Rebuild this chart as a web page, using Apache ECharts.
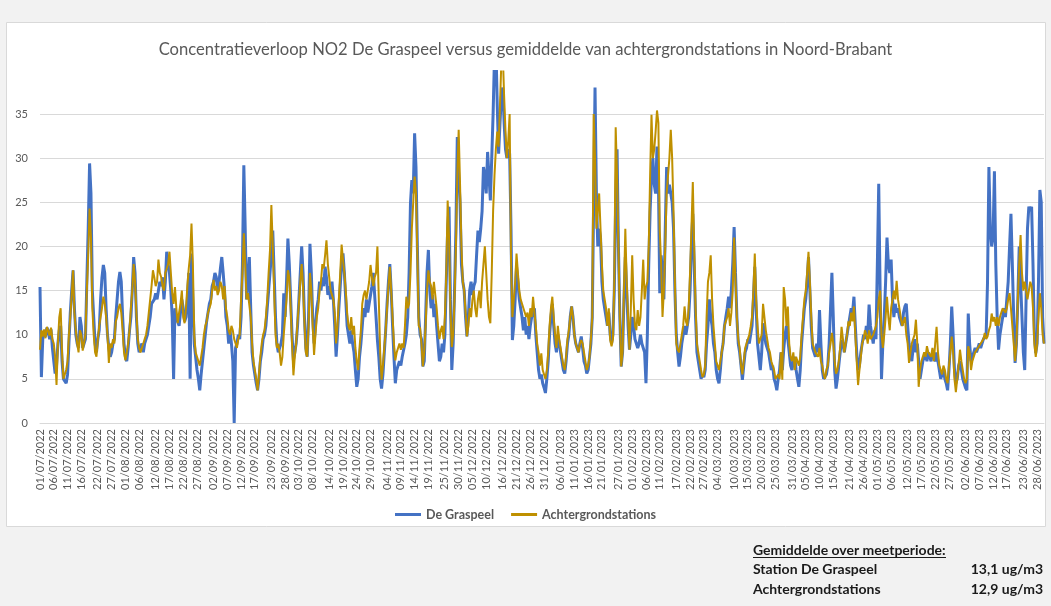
<!DOCTYPE html>
<html>
<head>
<meta charset="utf-8">
<script src="https://cdn.jsdelivr.net/npm/echarts@6/dist/echarts.min.js"></script>
<style>
  html, body { margin: 0; padding: 0; background: #f2f2f2; }
  #chart { width: 1051px; height: 606px; }
</style>
</head>
<body>
<div id="chart"></div>
<script>
// NO2 concentration (ug/m3), two readings per day (00:00 and 12:00), from 01/07/2022
const startDate = Date.UTC(2022, 6, 1);
const stepHours = 12;

const graspeel = [
  15.4,5.2, 9.5,10.2, 9.8,10.8, 10.4,9.5, 10.6,8.5, 7.0,5.6, 6.5,9.0, 10.5,11.0, 7.0,5.0, 4.8,4.5,
  5.5,9.0, 12.5,15.0, 17.3,13.0, 10.0,9.0, 8.5,12.0, 11.0,8.5, 8.3,9.5, 16.0,22.0, 29.4,26.0, 15.0,12.0,
  9.0,8.0, 9.5,10.5, 14.0,16.5, 17.9,17.0, 13.0,10.0, 8.5,7.5, 8.0,9.0, 9.5,12.0, 14.0,16.0, 17.1,16.0,
  12.0,9.0, 7.5,7.0, 8.5,10.5, 12.0,15.0, 18.8,17.0, 12.0,9.0, 8.0,8.5, 9.0,8.0, 9.0,9.5, 10.0,11.0,
  12.0,13.5, 13.5,14.0, 14.7,14.0, 15.0,16.0, 15.5,16.5, 14.0,16.0, 19.4,18.0, 17.0,15.0, 12.0,5.0, 13.0,12.0,
  12.0,11.0, 12.5,14.0, 13.0,11.5, 12.0,14.0, 17.0,5.0, 19.2,14.0, 9.0,7.5, 6.0,5.0, 3.7,5.5, 7.0,8.5,
  10.0,11.5, 12.5,13.5, 14.0,15.5, 16.0,17.0, 16.5,15.0, 16.0,17.5, 18.8,17.0, 15.0,12.0, 11.0,9.0, 10.5,9.0,
  7.0,0.0, 8.5,9.0, 10.0,9.5, 12.0,18.0, 29.2,22.0, 14.0,16.0, 18.8,13.0, 8.0,6.5, 5.5,4.5, 3.7,5.0,
  7.0,8.0, 9.5,10.0, 11.0,13.0, 15.0,17.0, 19.0,21.8, 17.0,12.0, 9.0,8.0, 8.5,9.0, 10.0,14.7, 12.0,16.0,
  20.9,18.0, 14.0,10.0, 7.1,8.0, 9.0,11.0, 14.0,17.0, 20.0,17.0, 12.0,8.5, 7.5,12.0, 20.3,17.0, 12.0,9.0,
  11.0,13.0, 14.0,16.0, 15.0,16.5, 15.5,17.7, 16.5,14.5, 15.5,14.0, 16.0,14.0, 11.0,7.5, 10.0,13.0, 15.5,18.0,
  19.2,17.0, 14.0,11.0, 10.0,9.0, 10.5,9.0, 8.0,6.0, 4.1,5.0, 7.5,9.0, 11.0,13.0, 12.0,14.0, 12.5,13.5,
  14.5,15.5, 17.0,14.5, 12.0,9.4, 7.5,5.0, 3.9,5.5, 8.0,10.5, 13.5,16.0, 18.0,15.0, 11.0,7.5, 4.5,6.0,
  6.5,7.0, 6.5,7.5, 7.5,9.0, 10.0,12.0, 17.0,24.9, 27.5,26.0, 32.8,29.0, 20.0,12.0, 10.0,9.5, 6.4,7.0,
  12.0,17.0, 19.6,15.0, 13.0,14.5, 12.0,13.5, 11.0,9.0, 7.0,7.5, 9.0,8.0, 10.0,16.0, 22.0,24.5, 14.0,6.0,
  9.0,15.0, 22.0,32.4, 28.0,25.0, 18.0,16.0, 15.0,12.0, 9.8,12.0, 15.0,16.0, 14.5,15.5, 16.0,19.0, 21.8,20.5,
  22.0,24.0, 29.0,28.0, 26.0,30.7, 28.0,25.2, 30.0,35.0, 41.5,43.0, 36.0,30.5, 34.0,37.0, 38.0,34.0, 31.0,30.0,
  31.0,30.5, 22.0,9.4, 11.0,14.0, 17.7,16.0, 14.0,13.0, 12.0,10.5, 12.0,10.0, 11.0,9.5, 11.0,12.0, 12.5,13.0,
  10.0,8.0, 6.0,5.0, 5.5,4.5, 4.0,3.4, 5.0,7.0, 10.0,12.0, 13.5,11.0, 9.0,8.0, 10.0,9.0, 8.0,7.0,
  6.0,5.6, 7.0,9.0, 10.0,12.0, 13.2,12.0, 10.0,9.0, 8.5,8.0, 9.0,9.8, 8.5,7.0, 6.5,5.6, 6.0,7.5,
  9.0,12.0, 25.0,38.0, 26.0,20.0, 22.0,21.0, 16.0,14.0, 13.0,12.0, 11.0,12.5, 10.0,9.0, 10.0,15.0, 25.0,31.0,
  20.0,12.0, 6.4,8.0, 14.0,18.8, 15.0,11.0, 8.3,10.0, 12.0,11.0, 9.5,9.0, 8.5,9.0, 10.0,9.0, 9.0,8.0,
  4.5,10.0, 18.0,24.0, 28.0,30.0, 27.0,26.0, 31.3,28.0, 14.7,19.0, 17.0,14.0, 22.0,29.0, 26.0,27.0, 27.0,25.0,
  22.0,15.0, 10.0,8.0, 6.4,7.5, 9.0,10.0, 11.0,10.0, 10.0,12.0, 15.0,20.0, 23.7,18.0, 12.0,8.0, 7.0,6.0,
  5.0,5.5, 5.2,6.0, 9.0,11.0, 14.0,12.0, 11.0,9.0, 8.0,6.0, 5.0,4.5, 6.0,8.0, 9.0,11.0, 12.0,13.0,
  14.3,13.0, 15.0,18.0, 22.2,17.0, 12.0,9.0, 8.0,6.5, 4.9,6.5, 8.0,8.5, 9.5,9.0, 9.0,11.0, 14.0,17.7,
  13.0,9.0, 7.5,6.0, 8.0,11.3, 10.0,9.0, 9.0,8.0, 7.0,6.0, 6.5,5.0, 4.5,3.7, 5.0,6.0, 8.0,6.0,
  8.3,10.0, 11.0,9.5, 8.0,6.5, 6.0,7.0, 7.5,6.0, 5.0,4.1, 6.0,9.0, 11.0,13.0, 14.0,16.0, 18.8,15.0,
  11.0,8.5, 8.0,7.5, 9.0,8.0, 12.8,9.0, 6.0,5.0, 5.0,5.5, 6.5,9.0, 13.0,17.0, 12.0,6.0, 3.9,5.0,
  6.5,8.0, 9.4,9.0, 8.0,9.0, 10.0,11.0, 12.0,13.0, 12.5,14.3, 11.0,8.0, 6.0,6.5, 8.0,9.0, 10.0,9.5,
  11.0,10.0, 13.4,11.0, 10.0,9.0, 10.5,9.5, 18.0,27.1, 15.0,5.0, 9.0,12.0, 16.0,21.0, 18.0,17.0, 18.5,14.0,
  12.0,13.5, 12.5,13.0, 12.0,11.5, 11.0,12.5, 13.2,13.5, 11.0,9.0, 8.0,7.0, 8.5,9.5, 8.0,9.0, 7.0,5.0,
  6.0,7.0, 7.5,8.0, 7.0,8.0, 7.5,7.0, 8.0,7.5, 7.0,8.0, 7.0,6.0, 5.0,5.5, 6.0,5.0, 4.5,3.7,
  6.0,9.0, 13.2,10.0, 6.0,4.5, 5.0,6.5, 7.0,6.0, 5.0,4.5, 4.0,3.7, 12.4,9.0, 7.0,7.5, 8.0,8.5,
  8.0,8.5, 9.0,8.5, 9.0,9.5, 9.5,10.0, 16.0,29.0, 22.0,20.0, 21.0,28.5, 18.0,12.0, 8.3,10.0, 11.0,12.0,
  13.0,12.0, 12.0,16.0, 20.0,23.7, 18.0,12.0, 6.8,9.0, 14.0,20.0, 16.0,12.0, 8.0,6.0, 14.0,22.0, 24.5,24.0,
  24.5,18.0, 10.0,7.9, 9.0,16.0, 26.4,25.0, 12.0,9.0
];

const achtergrond = [
  8.3,10.5, 9.8,10.6, 9.6,10.9, 10.7,9.9, 10.8,9.5, 9.0,7.5, 4.3,9.0, 12.0,13.0, 8.0,5.0, 5.5,6.0,
  7.0,10.0, 12.0,14.5, 17.3,12.5, 10.5,9.0, 8.0,10.5, 10.0,8.2, 8.0,10.0, 15.0,19.0, 24.3,21.0, 13.0,10.0,
  8.0,7.5, 9.5,11.0, 12.0,13.0, 14.3,13.5, 12.0,10.0, 6.8,9.0, 8.5,9.5, 9.0,11.5, 12.0,13.0, 13.5,12.5,
  10.5,8.0, 7.1,8.0, 9.0,10.5, 13.0,15.0, 18.0,16.0, 12.5,9.5, 8.5,8.0, 8.5,9.0, 9.5,10.0, 11.0,12.5,
  14.0,15.5, 17.3,16.5, 15.5,16.0, 18.5,17.0, 16.5,15.5, 15.0,17.0, 17.5,18.0, 19.4,17.0, 14.7,13.5, 15.4,13.0,
  11.3,12.5, 13.5,15.0, 12.0,11.3, 13.0,15.5, 17.5,19.0, 22.6,18.0, 10.0,8.0, 7.9,7.0, 6.5,7.5, 8.5,10.0,
  11.0,11.5, 12.5,13.0, 13.5,15.0, 16.2,15.0, 15.5,14.5, 15.0,16.0, 15.5,14.0, 15.5,13.0, 12.0,10.5, 10.0,11.0,
  10.5,9.5, 9.0,8.5, 9.5,10.0, 14.0,17.0, 21.5,18.0, 14.0,14.7, 14.7,12.0, 9.0,7.0, 6.0,5.0, 3.7,5.5,
  7.5,9.0, 10.0,10.5, 12.0,14.0, 17.0,19.6, 24.7,20.0, 15.0,10.0, 8.5,9.0, 8.0,6.5, 7.5,10.0, 12.0,14.0,
  17.3,16.5, 13.0,9.0, 5.4,7.5, 9.0,11.5, 13.5,16.0, 18.0,15.5, 11.5,8.0, 7.5,11.0, 17.0,15.0, 11.0,7.7,
  10.0,12.0, 13.0,15.0, 16.0,18.0, 17.5,19.0, 20.7,18.0, 16.5,15.0, 14.5,14.0, 12.5,9.0, 11.0,14.0, 17.0,20.2,
  18.5,17.0, 15.0,12.5, 11.0,10.5, 12.0,10.0, 11.0,8.5, 7.0,6.0, 8.5,10.5, 13.5,14.5, 15.0,14.0, 15.0,16.0,
  17.9,16.5, 15.5,16.5, 17.0,20.0, 14.0,8.0, 4.9,6.5, 8.5,10.5, 13.0,15.5, 17.7,15.0, 12.0,9.0, 7.1,8.0,
  8.5,9.0, 8.3,9.0, 8.5,11.0, 14.3,13.0, 13.5,17.0, 22.0,25.0, 27.9,26.0, 19.0,11.0, 10.7,9.0, 6.4,8.0,
  11.0,15.0, 17.3,16.0, 15.5,14.0, 16.0,14.5, 13.0,11.0, 9.5,10.5, 11.0,9.5, 12.0,17.0, 25.2,21.0, 13.0,8.6,
  10.0,14.0, 20.0,28.0, 33.2,27.0, 20.0,16.0, 15.0,12.5, 9.8,11.0, 13.0,12.0, 14.0,15.0, 13.0,12.0, 14.0,15.0,
  13.0,16.0, 18.0,20.0, 17.0,14.0, 12.0,11.3, 17.0,24.0, 28.0,31.0, 33.0,31.3, 36.0,41.0, 42.0,37.0, 33.0,30.0,
  32.0,35.0, 18.5,12.0, 12.0,16.0, 19.2,17.0, 15.0,14.0, 14.0,13.0, 13.0,12.0, 12.5,11.0, 13.0,12.0, 14.3,12.5,
  11.0,9.0, 8.0,6.5, 7.9,6.0, 5.5,5.0, 6.0,8.0, 11.0,13.0, 14.3,12.0, 10.0,8.5, 11.0,9.5, 8.5,7.5,
  6.5,6.0, 7.5,9.5, 10.5,12.0, 13.2,12.0, 10.0,9.0, 8.5,8.0, 9.0,9.4, 9.0,8.0, 7.0,6.0, 6.5,7.5,
  9.5,12.0, 35.0,30.0, 22.0,24.0, 26.0,22.0, 18.0,15.0, 15.0,13.0, 11.0,13.0, 9.4,8.7, 9.5,16.0, 33.5,28.0,
  20.0,12.0, 6.4,8.0, 15.0,22.0, 16.0,12.0, 8.3,13.0, 19.0,14.0, 11.0,10.5, 12.8,11.0, 12.0,15.0, 18.5,14.0,
  15.4,16.0, 20.0,28.0, 34.9,30.0, 31.0,33.0, 35.4,34.0, 21.8,18.0, 12.0,15.0, 20.0,26.0, 28.0,30.0, 33.2,30.0,
  24.0,16.0, 9.0,8.3, 8.0,9.0, 10.0,11.0, 13.2,11.5, 11.0,13.0, 17.0,22.0, 27.3,20.0, 13.0,9.0, 8.0,7.0,
  6.0,5.2, 5.5,6.5, 12.0,16.0, 17.0,19.0, 14.0,11.0, 9.0,7.0, 6.5,6.0, 7.0,8.0, 9.0,11.0, 11.0,12.0,
  13.0,11.0, 12.5,15.0, 21.0,16.0, 12.0,9.5, 8.5,6.5, 5.5,7.0, 8.5,9.0, 9.0,10.0, 10.9,12.0, 15.0,19.2,
  14.0,11.0, 9.0,9.0, 10.0,13.5, 12.0,10.5, 9.5,8.5, 8.0,7.0, 7.0,6.0, 5.0,4.9, 5.5,5.0, 8.0,4.9,
  15.4,14.0, 11.0,13.2, 9.0,7.5, 7.0,8.0, 6.0,7.5, 7.0,6.5, 7.5,10.0, 12.0,14.0, 15.0,17.0, 19.4,16.0,
  12.0,9.0, 8.5,8.0, 8.0,7.5, 8.5,7.0, 6.5,5.5, 5.0,6.0, 6.5,8.0, 9.0,10.2, 9.0,7.0, 5.6,6.0,
  7.0,8.5, 10.9,9.5, 8.0,9.0, 10.0,11.5, 11.0,12.5, 11.5,13.2, 10.0,7.0, 4.3,6.0, 7.5,9.0, 9.5,10.5,
  10.0,9.0, 10.5,9.5, 9.5,10.0, 10.0,11.0, 12.0,14.0, 15.0,10.0, 8.5,10.0, 12.0,14.3, 12.0,10.5, 13.0,14.0,
  15.0,14.0, 16.1,14.0, 14.0,12.0, 11.0,10.9, 12.0,10.0, 9.0,6.8, 8.0,9.0, 9.5,10.0, 11.7,9.0, 4.1,6.0,
  7.0,7.5, 8.0,7.5, 8.7,8.0, 8.0,7.5, 8.5,7.0, 9.0,10.9, 8.0,6.5, 6.0,5.5, 6.5,6.0, 5.0,4.5,
  6.5,8.0, 9.8,8.0, 5.0,3.5, 5.0,6.5, 8.3,7.0, 6.0,5.0, 4.5,5.0, 8.7,8.0, 6.0,7.0, 7.5,8.0,
  8.0,8.5, 8.5,9.0, 9.0,9.5, 10.2,9.5, 9.8,10.5, 11.0,12.4, 11.5,12.0, 11.0,12.0, 11.0,12.0, 12.5,13.0,
  13.0,12.5, 13.0,14.0, 14.7,13.0, 11.0,9.0, 7.0,9.0, 14.0,18.0, 21.3,17.0, 15.0,16.0, 15.0,14.0, 15.0,16.0,
  15.5,13.0, 9.0,7.5, 9.0,12.0, 14.7,13.0, 10.0,9.0
];

// Dates printed under the axis
const tickLabels = [
  '01/07/2022','06/07/2022','11/07/2022','16/07/2022','22/07/2022','27/07/2022','01/08/2022','06/08/2022',
  '12/08/2022','17/08/2022','22/08/2022','27/08/2022','02/09/2022','07/09/2022','12/09/2022','17/09/2022',
  '23/09/2022','28/09/2022','03/10/2022','08/10/2022','14/10/2022','19/10/2022','24/10/2022','29/10/2022',
  '04/11/2022','09/11/2022','14/11/2022','19/11/2022','25/11/2022','30/11/2022','05/12/2022','10/12/2022',
  '16/12/2022','21/12/2022','26/12/2022','31/12/2022','06/01/2023','11/01/2023','16/01/2023','21/01/2023',
  '27/01/2023','01/02/2023','06/02/2023','11/02/2023','17/02/2023','22/02/2023','27/02/2023','04/03/2023',
  '10/03/2023','15/03/2023','20/03/2023','25/03/2023','31/03/2023','05/04/2023','10/04/2023','15/04/2023',
  '21/04/2023','26/04/2023','01/05/2023','06/05/2023','12/05/2023','17/05/2023','22/05/2023','27/05/2023',
  '02/06/2023','07/06/2023','12/06/2023','17/06/2023','23/06/2023','28/06/2023'
];

const seriesNames = ['De Graspeel', 'Achtergrondstations'];
const averageLabels = ['Station De Graspeel', 'Achtergrondstations'];
const averageValues = ['13,1 ug/m3', '12,9 ug/m3'];

function pad(n) { return (n < 10 ? '0' : '') + n; }
const categories = graspeel.map(function (_, i) {
  const d = new Date(startDate + i * stepHours * 3600 * 1000);
  return pad(d.getUTCDate()) + '/' + pad(d.getUTCMonth() + 1) + '/' + d.getUTCFullYear() +
    ' ' + pad(d.getUTCHours()) + ':00';
});
const labelSet = new Set(tickLabels);
function showTick(index) {
  const day = categories[index].slice(0, 10);
  if (!labelSet.has(day)) return false;
  return index === 0 || categories[index - 1].slice(0, 10) !== day;
}

const FONT = 'Lato, "Open Sans", sans-serif';
const gridColor = '#d9d9d9';
const textGrey = '#595959';

const chart = echarts.init(document.getElementById('chart'), null, { renderer: 'canvas' });
chart.setOption({
  animation: false,
  backgroundColor: '#f2f2f2',
  textStyle: { fontFamily: FONT },
  title: {
    text: 'Concentratieverloop NO2 De Graspeel versus gemiddelde van achtergrondstations in Noord-Brabant',
    left: 'center',
    top: 36,
    textStyle: { fontFamily: FONT, fontSize: 16.6, fontWeight: 'normal', color: textGrey }
  },
  legend: {
    data: seriesNames,
    left: 'center',
    top: 503,
    icon: 'rect',
    itemWidth: 26,
    itemHeight: 3,
    itemGap: 17,
    textStyle: { fontFamily: FONT, fontSize: 12.5, fontWeight: 'bold', color: textGrey }
  },
  grid: { left: 40, right: 7, top: 71.6, bottom: 183, containLabel: false },
  xAxis: {
    type: 'category',
    data: categories,
    boundaryGap: false,
    axisLine: { lineStyle: { color: gridColor, width: 1 } },
    axisTick: { show: false },
    axisLabel: {
      interval: showTick,
      rotate: 90,
      margin: 6,
      fontSize: 11,
      color: textGrey,
      fontFamily: FONT,
      formatter: function (v) { return v.slice(0, 10); }
    },
    splitLine: { show: false }
  },
  yAxis: {
    type: 'value',
    min: 0,
    max: 39.8,
    interval: 5,
    axisLine: { show: false },
    axisTick: { show: false },
    axisLabel: {
      fontSize: 11,
      color: textGrey,
      margin: 12,
      fontFamily: FONT,
      formatter: function (v) { return v % 5 === 0 ? String(v) : ''; }
    },
    splitLine: {
      lineStyle: {
        color: [gridColor, gridColor, gridColor, gridColor, gridColor, gridColor, gridColor, gridColor, 'rgba(0,0,0,0)'],
        width: 1
      }
    }
  },
  series: [
    {
      name: seriesNames[0],
      type: 'line',
      data: graspeel,
      showSymbol: false,
      symbol: 'none',
      lineStyle: { color: '#4472C4', width: 3 },
      itemStyle: { color: '#4472C4' },
      clip: true
    },
    {
      name: seriesNames[1],
      type: 'line',
      data: achtergrond,
      showSymbol: false,
      symbol: 'none',
      lineStyle: { color: '#BF9000', width: 2 },
      itemStyle: { color: '#BF9000' },
      clip: true
    }
  ],
  graphic: [
    {
      type: 'rect',
      z: -100,
      silent: true,
      shape: { x: 6.5, y: 22.5, width: 1039, height: 504 },
      style: { fill: '#ffffff', stroke: '#d9d9d9', lineWidth: 1 }
    },
    {
      type: 'text', left: 753, top: 543,
      style: { text: 'Gemiddelde over meetperiode:', font: 'bold 14px ' + FONT, fill: '#1a1a1a' }
    },
    {
      type: 'line', silent: true,
      shape: { x1: 753, y1: 557.5, x2: 946, y2: 557.5 },
      style: { stroke: '#1a1a1a', lineWidth: 1 }
    },
    {
      type: 'text', left: 753, top: 562,
      style: { text: averageLabels[0], font: 'bold 14px ' + FONT, fill: '#1a1a1a' }
    },
    {
      type: 'text', right: 8, top: 562,
      style: { text: averageValues[0], font: 'bold 14px ' + FONT, fill: '#1a1a1a' }
    },
    {
      type: 'text', left: 753, top: 582,
      style: { text: averageLabels[1], font: 'bold 14px ' + FONT, fill: '#1a1a1a' }
    },
    {
      type: 'text', right: 8, top: 582,
      style: { text: averageValues[1], font: 'bold 14px ' + FONT, fill: '#1a1a1a' }
    }
  ]
});
</script>
</body>
</html>
